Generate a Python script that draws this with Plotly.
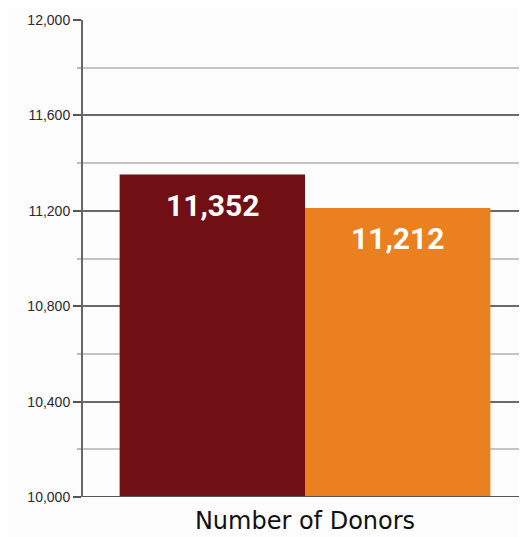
import plotly.graph_objects as go

category = ["Number of Donors"]
series_names = ["Year 1", "Year 2"]
series_values = [11352, 11212]
series_colors = ["#701015", "#EA8020"]
tick_vals = [10000, 10400, 10800, 11200, 11600, 12000]
tick_text = ["10,000", "10,400", "10,800", "11,200", "11,600", "12,000"]

fig = go.Figure()
for name, val, col in zip(series_names, series_values, series_colors):
    fig.add_trace(go.Bar(x=category, y=[val], name=name, marker=dict(color=col, line=dict(width=0)),
                         showlegend=False, hoverinfo="skip"))

bar_px = 185
for i, val in enumerate(series_values):
    fig.add_annotation(x=category[0], y=val, xref="x", yref="y",
                       xshift=(-1 if i == 0 else 1) * bar_px / 2, yshift=-31,
                       text=f"<b>{val:,}</b>", showarrow=False, yanchor="middle",
                       font=dict(family="Roboto, sans-serif", size=30, color="white"))

# page body has an 8px default margin, so the figure is sized to fit the window
fig.update_layout(
    width=519, height=529,
    margin=dict(l=75, r=0, t=12, b=40),
    paper_bgcolor="#fdfdfd", plot_bgcolor="#fdfdfd",
    barmode="group", bargap=0.165, bargroupgap=0,
    xaxis=dict(showgrid=False, showline=False, ticks="", automargin=False, ticklabelstandoff=7,
               tickfont=dict(family="DejaVu Sans, sans-serif", size=24, color="#111111")),
    yaxis=dict(range=[10000, 12000], tickvals=tick_vals, ticktext=tick_text, automargin=False,
               showgrid=True, gridcolor="#6a6a6a", gridwidth=2,
               showline=True, linecolor="#666666", linewidth=2,
               ticks="outside", ticklen=8, tickwidth=2, tickcolor="#555555",
               tickfont=dict(family="Liberation Sans, Arial, sans-serif", size=14, color="#2a2a2a"),
               zeroline=False,
               minor=dict(dtick=200, showgrid=True, gridcolor="#c4c4c4", gridwidth=1.5,
                          ticks="outside", ticklen=4, tickcolor="#bbbbbb")),
)
fig.add_shape(type="line", xref="paper", yref="y", x0=0, x1=1, y0=10000, y1=10000,
              line=dict(color="#555555", width=2))

fig.write_html("out.html")
